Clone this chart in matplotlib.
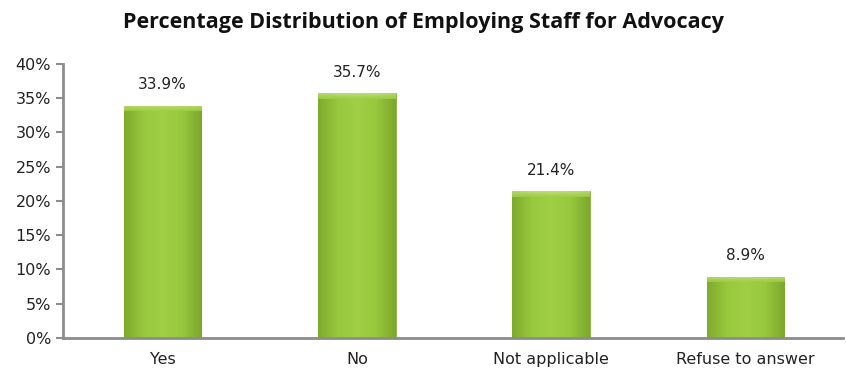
import matplotlib
matplotlib.use("Agg")
import matplotlib.pyplot as plt
import numpy as np
from matplotlib.colors import LinearSegmentedColormap

categories = ["Yes", "No", "Not applicable", "Refuse to answer"]
shares = [33.9, 35.7, 21.4, 8.9]

fig = plt.figure(figsize=(8.46, 3.81), dpi=100)
ax = fig.add_axes([0.075, 0.113, 0.921, 0.719])

x = np.arange(len(categories))
width = 0.4
bars = ax.bar(x, shares, width, color="#92c13a", edgecolor="#7aa42c", linewidth=0.5, zorder=2)

# bevelled green fill: lighter centre, darker sides, soft top lip
shade = LinearSegmentedColormap.from_list(
    "bevel", ["#7fab2d", "#98c83e", "#a0cf46", "#98c83e", "#7ca82b"])
grad = np.linspace(0, 1, 64).reshape(1, -1)
lip_cmap = LinearSegmentedColormap.from_list("lip", ["#a0cf46", "#c4e37e"])
for rect in bars:
    x0, w, h = rect.get_x(), rect.get_width(), rect.get_height()
    im = ax.imshow(grad, cmap=shade, aspect="auto", extent=(x0, x0 + w, 0, h),
                   zorder=2.5, interpolation="bicubic")
    im.set_clip_path(rect)
    lip = min(0.8, h * 0.1)
    tip = ax.imshow(np.linspace(0, 1, 16).reshape(-1, 1)[::-1], cmap=lip_cmap,
                    aspect="auto", extent=(x0, x0 + w, h - lip, h), alpha=0.8,
                    zorder=2.6, interpolation="bicubic")
    tip.set_clip_path(rect)
    ax.annotate(f"{rect.get_height()}%", xy=(x0 + w / 2, h), xytext=(0, 10),
                textcoords="offset points", ha="center", va="bottom",
                fontsize=11, color="#222222")

ax.set_xlim(-0.51, 3.5)
ax.set_ylim(0, 40)
ax.set_yticks(range(0, 41, 5))
ax.set_yticklabels([f"{v}%" for v in range(0, 41, 5)])
ax.set_xticks(x)
ax.set_xticklabels(categories)
ax.tick_params(axis="y", length=5, width=1.5, color="#8c8c8c", labelsize=11.5,
               labelcolor="#222222", pad=4)
ax.tick_params(axis="x", length=0, labelsize=11.5, labelcolor="#222222", pad=10)

for side in ("top", "right"):
    ax.spines[side].set_visible(False)
for side in ("left", "bottom"):
    ax.spines[side].set_color("#8c8c8c")
    ax.spines[side].set_linewidth(2)

fig.text(0.5, 0.942, "Percentage Distribution of Employing Staff for Advocacy",
         ha="center", va="center", fontsize=15.5, fontweight="bold",
         family="Open Sans", color="#111111")

fig.savefig("out.png", dpi=100)
